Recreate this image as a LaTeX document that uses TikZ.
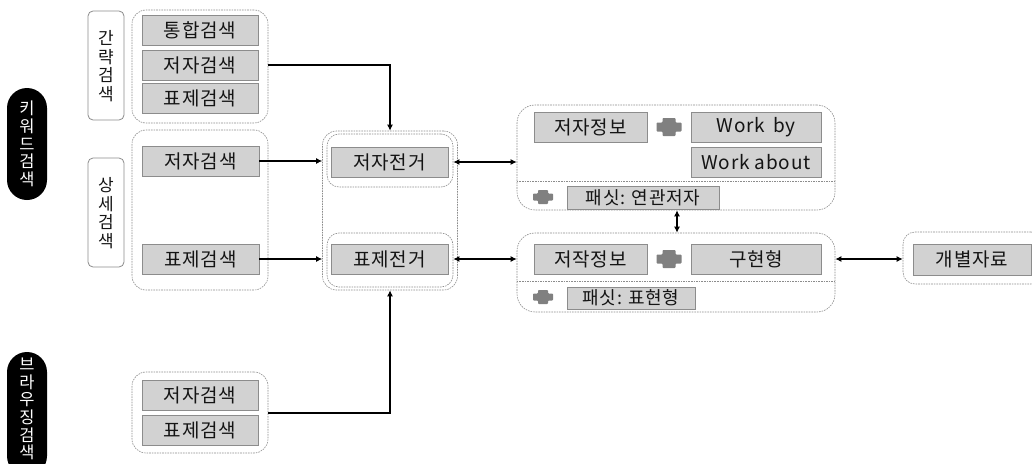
\documentclass[tikz,border=0pt]{standalone}
\usepackage{fontspec}
\setmainfont{Noto Sans CJK KR}[LetterSpace=4]
\usetikzlibrary{arrows.meta}
\definecolor{itemfill}{RGB}{210,210,210}
\definecolor{itemdraw}{RGB}{140,140,140}
\definecolor{dashc}{RGB}{140,140,140}
\definecolor{plusc}{RGB}{128,128,128}
\definecolor{txt}{RGB}{20,20,20}
\tikzset{
  item/.style={draw=itemdraw, fill=itemfill, line width=0.9pt, inner sep=0pt, text=txt,
    font=\fontsize{19}{22}\selectfont},
  facet/.style={item, font=\fontsize{18}{21}\selectfont},
  grp/.style={draw=dashc, line width=0.6pt, dash pattern=on 1.6pt off 1pt, rounded corners=14pt, inner sep=0pt},
  lbl/.style={draw=itemdraw, line width=0.8pt, rounded corners=5pt, fill=white, inner sep=0pt},
  lbltext/.style={inner sep=0pt, align=center, text=txt, font=\fontsize{17}{18.5}\selectfont},
  pill/.style={fill=black, rounded corners=20pt, inner sep=0pt},
  pilltext/.style={inner sep=0pt, align=center, text=white, font=\fontsize{16.5}{17.6}\selectfont},
  conn/.style={line width=2pt, black},
  arr/.style={conn, -{Latex[length=6pt,width=6pt]}},
  darr/.style={conn, {Latex[length=6pt,width=6pt]}-{Latex[length=6pt,width=6pt]}},
  sep/.style={draw=dashc, line width=0.6pt, dash pattern=on 1.6pt off 1pt},
  bigplus/.pic={\fill[plusc, rounded corners=0.8pt] (-12.5,-4.5) -- (-6.5,-4.5) -- (-6.5,-9) -- (6.5,-9) -- (6.5,-4.5) -- (12.5,-4.5) -- (12.5,4.5) -- (6.5,4.5) -- (6.5,9) -- (-6.5,9) -- (-6.5,4.5) -- (-12.5,4.5) -- cycle;},
  smallplus/.pic={\fill[plusc, rounded corners=0.8pt] (-10,-3.5) -- (-5,-3.5) -- (-5,-7) -- (5,-7) -- (5,-3.5) -- (10,-3.5) -- (10,3.5) -- (5,3.5) -- (5,7) -- (-5,7) -- (-5,3.5) -- (-10,3.5) -- cycle;}
}
\begin{document}
\begin{tikzpicture}[x=1pt,y=-1pt]
\useasboundingbox (0,0) rectangle (1032,463);
% black pills
\node[pill, minimum width=40, minimum height=112] (kw) at (27,144) {};
\node[pilltext] (kwt) at (27,144) {키\\워\\드\\검\\색};
\node[pill, minimum width=40, minimum height=124] (br) at (27,414) {};
\node[pilltext] (brt) at (27,409) {브\\라\\우\\징\\검\\색};
% label boxes
\node[lbl, minimum width=36, minimum height=109] (gan) at (106,65.5) {};
\node[lbltext] (gant) at (106,66) {간\\략\\검\\색};
\node[lbl, minimum width=36, minimum height=109] (sang) at (106,212.5) {};
\node[lbltext] (sangt) at (106,213) {상\\세\\검\\색};
% left groups
\node[grp, minimum width=136, minimum height=113] (g1) at (200,66.5) {};
\node[item, minimum width=116, minimum height=30] (s1) at (200,30) {통합검색};
\node[item, minimum width=116, minimum height=30] (s2) at (200,65) {저자검색};
\node[item, minimum width=116, minimum height=30] (s3) at (200,98) {표제검색};
\node[grp, minimum width=136, minimum height=160] (g2) at (200,210) {};
\node[item, minimum width=117, minimum height=30] (d1) at (200.5,161) {저자검색};
\node[item, minimum width=117, minimum height=30] (d2) at (200.5,259) {표제검색};
\node[grp, minimum width=136, minimum height=81] (g3) at (200,412.5) {};
\node[item, minimum width=116, minimum height=30] (b1) at (200,395.5) {저자검색};
\node[item, minimum width=116, minimum height=30] (b2) at (200,430) {표제검색};
% middle
\node[grp, minimum width=135, minimum height=159] (mid) at (390,210.5) {};
\node[grp, minimum width=126, minimum height=53, rounded corners=12pt] (ina) at (390,160.5) {};
\node[grp, minimum width=126, minimum height=54, rounded corners=12pt] (inb) at (390,260) {};
\node[item, minimum width=117, minimum height=30] (ja) at (389.5,162) {저자전거};
\node[item, minimum width=117, minimum height=30] (pj) at (389.5,259) {표제전거};
% right top group
\node[grp, minimum width=318, minimum height=105, rounded corners=18pt] (rt) at (676,157.5) {};
\draw[sep] (rt.west |- 0,181) -- (rt.east |- 0,181);
\node[item, minimum width=113, minimum height=30] (jinfo) at (590.5,127) {저자정보};
\pic at (669,127) {bigplus};
\node[item, minimum width=130, minimum height=30] (wby) at (756,127) {Work\, by};
\node[item, minimum width=130, minimum height=30] (wab) at (756,162.5) {Work about};
\pic at (543,197) {smallplus};
\node[facet, minimum width=152, minimum height=23] (f1) at (643,197.5) {패싯: 연관저자};
% right bottom group
\node[grp, minimum width=318, minimum height=79, rounded corners=18pt] (rb) at (676,272.5) {};
\draw[sep] (rb.west |- 0,281) -- (rb.east |- 0,281);
\node[item, minimum width=113, minimum height=30] (winfo) at (590.5,259) {저작정보};
\pic at (669,259) {bigplus};
\node[item, minimum width=130, minimum height=30] (gu) at (756,259) {구현형};
\pic at (543,297) {smallplus};
\node[facet, minimum width=128, minimum height=22] (f2) at (631,298) {패싯: 표현형};
% individual item group
\node[grp, minimum width=140, minimum height=52, rounded corners=12pt] (gb) at (973,258) {};
\node[item, minimum width=118, minimum height=31] (gi) at (972,259.5) {개별자료};
% connectors
\draw[arr] (g1.east |- s2) -| (mid.north);
\draw[arr] (g3.east |- 0,413) -| (mid.south);
\draw[arr] (d1.east) -- (mid.west |- d1);
\draw[arr] (d2.east) -- (mid.west |- d2);
\draw[darr] (ina.east |- ja) -- (rt.west |- ja);
\draw[darr] (inb.east |- pj) -- (rb.west |- pj);
\draw[darr] (rt.south -| 677,0) -- (rb.north -| 677,0);
\draw[darr] (rb.east |- gu) -- (gb.west |- gu);
\end{tikzpicture}
\end{document}
